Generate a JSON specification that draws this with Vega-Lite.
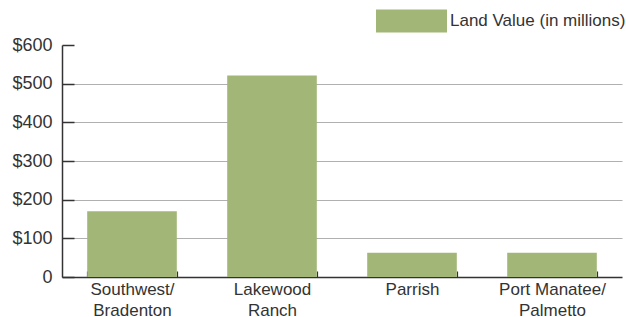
{
  "$schema": "https://vega.github.io/schema/vega-lite/v6.json",
  "width": 560,
  "height": 232,
  "autosize": {"type": "none"},
  "padding": {"left": 62, "top": 45, "right": 4, "bottom": 40},
  "background": "white",
  "config": {
    "font": "Liberation Sans",
    "view": {"stroke": null}
  },
  "data": {
    "values": [
      {"region": "Southwest/ Bradenton", "value": 170, "series": "Land Value (in millions)"},
      {"region": "Lakewood Ranch", "value": 521, "series": "Land Value (in millions)"},
      {"region": "Parrish", "value": 63, "series": "Land Value (in millions)"},
      {"region": "Port Manatee/ Palmetto", "value": 63, "series": "Land Value (in millions)"}
    ]
  },
  "mark": {"type": "bar"},
  "encoding": {
    "x": {
      "field": "region",
      "type": "nominal",
      "sort": null,
      "scale": {"paddingInner": 0.36, "paddingOuter": 0.18},
      "axis": {
        "title": null,
        "labelAngle": 0,
        "labelFontSize": 17,
        "labelColor": "#333333",
        "labelLineHeight": 20.5,
        "labelPadding": 10.5,
        "labelBaseline": "top",
        "labelExpr": "!isString(datum.value) ? '' : indexof(datum.value, '/') >= 0 ? [slice(datum.value, 0, indexof(datum.value, '/') + 1), slice(datum.value, indexof(datum.value, '/') + 2)] : split(datum.value, ' ')",
        "tickBand": "extent",
        "tickSize": -6,
        "tickColor": "#333333",
        "tickWidth": 1.2,
        "domainColor": "#333333",
        "domainWidth": 1.5
      }
    },
    "y": {
      "field": "value",
      "type": "quantitative",
      "scale": {"domain": [0, 600], "nice": false},
      "axis": {
        "title": null,
        "values": [0, 100, 200, 300, 400, 500, 600],
        "labelExpr": "datum.value == 0 ? '0' : '$' + datum.value",
        "labelFontSize": 18,
        "labelColor": "#333333",
        "labelPadding": 22,
        "tickSize": -12,
        "tickColor": "#333333",
        "tickWidth": 1.5,
        "domainColor": "#333333",
        "domainWidth": 1.5,
        "grid": true,
        "gridColor": "#b0b0b0",
        "gridWidth": 1.2,
        "gridOpacity": {"condition": {"test": "datum.value == 600 || datum.value == 0", "value": 0}, "value": 1}
      }
    },
    "color": {
      "field": "series",
      "type": "nominal",
      "scale": {"range": ["#a2b777"]},
      "legend": {
        "title": null,
        "orient": "none",
        "legendX": 338,
        "legendY": -35.5,
        "padding": 0,
        "symbolType": "M-3.087,-1H3.087V1H-3.087Z",
        "symbolSize": 529,
        "symbolStrokeWidth": 0,
        "symbolOpacity": 1,
        "labelOffset": 27,
        "labelFontSize": 17,
        "labelColor": "#333333",
        "labelLimit": 400
      }
    }
  }
}
